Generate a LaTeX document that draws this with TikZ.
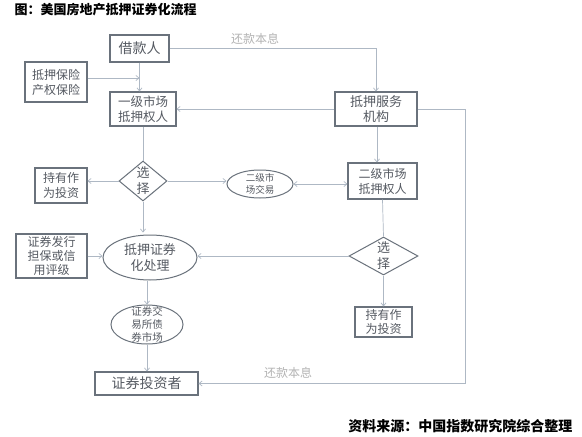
\documentclass[tikz,border=0pt]{standalone}
\usepackage{fontspec}
\setmainfont{Noto Sans CJK SC}
\usetikzlibrary{shapes.geometric,arrows.meta}
\definecolor{boxc}{HTML}{6A727C}
\definecolor{txtc}{HTML}{555A62}
\definecolor{linec}{HTML}{AEB8C4}
\definecolor{lblc}{HTML}{B4B4B4}
\tikzset{
  box/.style={draw=boxc, line width=1.1pt, text=txtc, align=center, inner sep=0pt, rectangle},
  oval/.style={draw=boxc, line width=1pt, ellipse, inner sep=0pt},
  dia/.style={draw=boxc, line width=1pt, diamond, inner sep=0pt},
  lbl/.style={text=txtc, align=center},
  conn/.style={draw=linec, line width=0.7pt},
  arr/.style={conn, -{Straight Barb[length=3pt,width=5pt]}},
  darr/.style={conn, {Straight Barb[length=3pt,width=5pt]}-{Straight Barb[length=3pt,width=5pt]}},
  pay/.style={text=lblc, font=\fontsize{12}{14}\selectfont}
}
\begin{document}
\begin{tikzpicture}[x=1pt,y=-1pt]
\useasboundingbox (0,0) rectangle (582,437);
\fill[white] (0,0) rectangle (582,437);
% title and footer
\node[anchor=west, font=\fontsize{13}{15}\selectfont\bfseries] (title) at (11,10) {图：美国房地产抵押证券化流程};
\node[anchor=east, font=\fontsize{14}{16}\selectfont\bfseries] (src) at (576,426) {资料来源：中国指数研究院综合整理};
% nodes
\node[box, minimum width=59pt, minimum height=27pt, font=\fontsize{14}{16}\selectfont] (borrower) at (139.5,48.5) {借款人};
\node[box, minimum width=62pt, minimum height=40pt, font=\fontsize{12}{15}\selectfont] (insure) at (56,82) {抵押保险\\产权保险};
\node[box, minimum width=66pt, minimum height=34pt, font=\fontsize{12.5}{15}\selectfont] (prim) at (143,109) {一级市场\\抵押权人};
\node[box, minimum width=82pt, minimum height=34pt, font=\fontsize{13}{15}\selectfont] (serv) at (376,109) {抵押服务\\机构};
\node[dia, minimum width=48pt, minimum height=40pt, label={[lbl, font=\fontsize{13}{16}\selectfont]center:选\\择}] (choose1) at (143,181) {};
\node[box, minimum width=52pt, minimum height=35pt, font=\fontsize{12}{15}\selectfont] (hold1) at (61,185.5) {持有作\\为投资};
\node[oval, minimum width=66pt, minimum height=28pt, label={[lbl, font=\fontsize{9.5}{12}\selectfont]center:二级市\\场交易}] (sec2) at (260,184) {};
\node[box, minimum width=69pt, minimum height=36pt, font=\fontsize{12}{15}\selectfont] (prim2) at (382.5,181) {二级市场\\抵押权人};
\node[oval, minimum width=94pt, minimum height=45pt, label={[lbl, font=\fontsize{13}{16}\selectfont]center:抵押证券\\化处理}] (secz) at (150,257.5) {};
\node[box, minimum width=71pt, minimum height=44pt, font=\fontsize{12}{14}\selectfont] (guar) at (51.5,256) {证券发行\\担保或信\\用评级};
\node[dia, minimum width=69pt, minimum height=38pt, label={[lbl, font=\fontsize{13}{16}\selectfont]center:选\\择}] (choose2) at (383.5,256) {};
\node[box, minimum width=57pt, minimum height=30pt, font=\fontsize{12}{14}\selectfont] (hold2) at (383.5,322) {持有作\\为投资};
\node[oval, minimum width=72pt, minimum height=39pt, label={[lbl, font=\fontsize{10.5}{13}\selectfont]center:证券交\\易所债\\券市场}] (exch) at (147,324.5) {};
\node[box, minimum width=103pt, minimum height=23pt, font=\fontsize{14}{16}\selectfont] (inv) at (146.5,383.5) {证券投资者};
% corners
\coordinate (c1) at (465,109);
\coordinate (c2) at (465,383.5);
% connectors
\draw[arr] (borrower.east) -| (serv.north);
\node[pay] (pay1) at (255,39) {还款本息};
\draw[arr] (borrower.south) -- (borrower.south |- prim.north);
\draw[arr] ([yshift=4pt]insure.east) -- ([yshift=4pt]insure.east -| borrower.south);
\draw[arr] (serv.west) -- (prim.east);
\draw[arr] (serv.east) -- (c1) -- (c2) -- (inv.east);
\node[pay] (pay2) at (288,373) {还款本息};
\draw[arr] ([xshift=1pt]serv.south) -- ([xshift=1pt]serv.south |- prim2.north);
\draw[conn] (prim.south) -- (choose1.north);
\draw[arr] (choose1.west) -- (choose1.west -| hold1.east);
\draw[arr] (choose1.east) -- (choose1.east -| sec2.west);
\draw[darr] (sec2.east) -- (sec2.east -| prim2.west);
\draw[arr] (choose1.south) -- ([yshift=2pt]choose1.south |- secz.north);
\draw[arr] (guar.east) -- (guar.east -| secz.west);
\draw[arr] (choose2.west) -- (choose2.west -| secz.east);
\draw[conn] (prim2.south) -- (choose2.north);
\draw[arr] (choose2.south) -- (hold2.north);
\draw[arr] (exch.north |- secz.south) -- (exch.north);
\draw[arr] (exch.south) -- (exch.south |- inv.north);
\end{tikzpicture}
\end{document}
